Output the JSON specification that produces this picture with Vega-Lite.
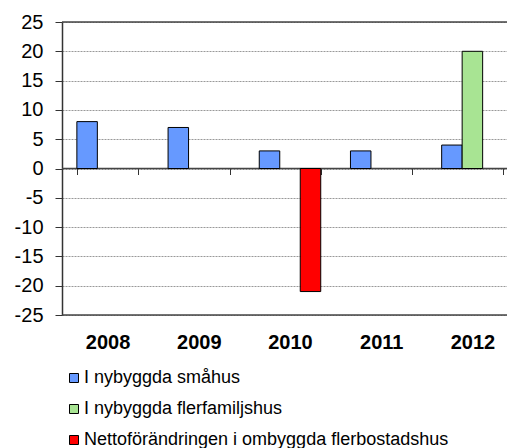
{
  "$schema": "https://vega.github.io/schema/vega-lite/v6.json",
  "width": 445,
  "height": 293,
  "autosize": "none",
  "padding": {"left": 62, "top": 22, "right": 0, "bottom": 133},
  "background": "white",
  "config": {
    "view": {"stroke": null},
    "font": "Liberation Sans",
    "axisY": {
      "labelOverlap": false, "labelFontSize": 20, "labelColor": "#000", "tickSize": 7, "labelPadding": 12,
      "domainColor": "#333", "domainWidth": 1.5, "tickColor": "#333",
      "grid": true, "gridDash": [2, 1], "gridColor": "#999", "title": null
    }
  },
  "datasets": {
    "bars": [
      {"year": "2008", "series": "I nybyggda småhus", "value": 8},
      {"year": "2009", "series": "I nybyggda småhus", "value": 7},
      {"year": "2010", "series": "I nybyggda småhus", "value": 3},
      {"year": "2010", "series": "Nettoförändringen i ombyggda flerbostadshus", "value": -21},
      {"year": "2011", "series": "I nybyggda småhus", "value": 3},
      {"year": "2012", "series": "I nybyggda småhus", "value": 4},
      {"year": "2012", "series": "I nybyggda flerfamiljshus", "value": 20}
    ],
    "lines": [{"v": 25}, {"v": 0}, {"v": -25}]
  },
  "layer": [
    {
      "data": {"name": "lines"},
      "mark": {"type": "rule", "color": "#444", "strokeWidth": 1.5},
      "encoding": {
        "y": {
          "field": "v", "type": "quantitative", "scale": {"domain": [-25, 25], "nice": false},
          "axis": {"values": [-25, -20, -15, -10, -5, 0, 5, 10, 15, 20, 25], "labelExpr": "'' + datum.value", "labelOverlap": false}
        }
      }
    },
    {
      "data": {"name": "bars"},
      "mark": {"type": "bar", "stroke": "#000", "strokeWidth": 1},
      "encoding": {
        "x": {
          "field": "year", "type": "nominal",
          "scale": {"range": [0, 456], "paddingInner": 0.326, "paddingOuter": 0.163},
          "axis": {
            "orient": "bottom", "offset": -146.5, "domain": false, "ticks": true,
            "tickBand": "extent", "tickSize": 6, "tickColor": "#333",
            "labelPadding": 158, "labelFontSize": 20, "labelFontWeight": "bold",
            "labelColor": "#000", "labelAngle": 0, "title": null, "grid": false
          }
        },
        "xOffset": {
          "field": "series", "type": "nominal",
          "scale": {"domain": ["I nybyggda småhus", "I nybyggda flerfamiljshus", "Nettoförändringen i ombyggda flerbostadshus"], "paddingInner": 0, "paddingOuter": 0}
        },
        "y": {
          "field": "value", "type": "quantitative",
          "scale": {"domain": [-25, 25], "nice": false},
          "axis": {"values": [-25, -20, -15, -10, -5, 0, 5, 10, 15, 20, 25], "labelExpr": "'' + datum.value", "labelOverlap": false}
        },
        "color": {
          "field": "series", "type": "nominal",
          "scale": {
            "domain": ["I nybyggda småhus", "I nybyggda flerfamiljshus", "Nettoförändringen i ombyggda flerbostadshus"],
            "range": ["#6699FF", "#A8E493", "#FF0000"]
          },
          "legend": {
            "orient": "none", "legendX": 3, "legendY": 347, "direction": "vertical",
            "title": null, "symbolType": "square", "symbolSize": 81,
            "symbolStrokeColor": "#000", "symbolStrokeWidth": 1, "symbolOpacity": 1,
            "labelFontSize": 18, "labelColor": "#000", "labelOffset": 1, "labelLimit": 0,
            "rowPadding": 13
          }
        }
      }
    }
  ]
}
